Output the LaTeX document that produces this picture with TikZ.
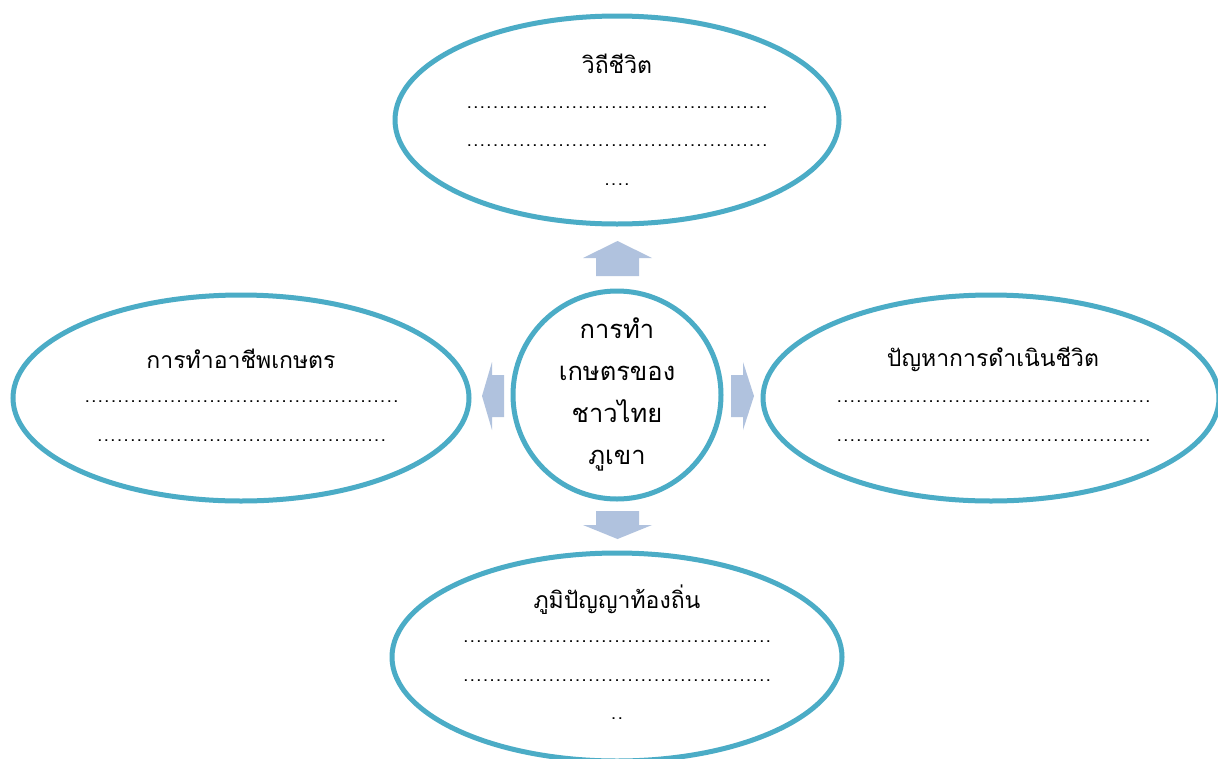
\documentclass[tikz,border=0pt]{standalone}
\usepackage{fontspec}
\newfontfamily\thaifont[Script=Thai]{Loma}
\usetikzlibrary{shapes.geometric}
\definecolor{ring}{RGB}{75,172,198}
\definecolor{arrowfill}{RGB}{176,194,222}
\newcommand\dotrow[1]{\hbox to #1pt{\xleaders\hbox to 6.55pt{\hss.\hss}\hfill}}
\begin{document}
\begin{tikzpicture}[x=1pt,y=-1pt,
  bubble/.style={ellipse,draw=ring,line width=5pt,fill=white,inner sep=0pt},
  ttl/.style={font=\thaifont\fontsize{23}{26}\selectfont,inner sep=0pt},
  ctr/.style={font=\thaifont\fontsize{25.5}{42}\selectfont,inner sep=0pt,align=center},
  dotsline/.style={font=\thaifont\fontsize{18}{20}\selectfont,inner sep=0pt},
  arrowshape/.style={fill=arrowfill,draw=none}]
\useasboundingbox (0,0) rectangle (1218,758);
\fill[white] (0,0) rectangle (1218,758);
% arrows
\fill[arrowshape] (596,276) -- (596,258) -- (583,258) -- (617.5,241) -- (652,258) -- (639,258) -- (639,276) -- cycle;
\fill[arrowshape] (596,511) -- (639,511) -- (639,525) -- (652,525) -- (617.5,539) -- (583,525) -- (596,525) -- cycle;
\fill[arrowshape] (504,375) -- (492,375) -- (492,362) -- (482,396) -- (492,430) -- (492,417) -- (504,417) -- cycle;
\fill[arrowshape] (731,375) -- (743,375) -- (743,362) -- (754,396) -- (743,430) -- (743,417) -- (731,417) -- cycle;
% bubbles
\node[bubble,minimum width=444pt,minimum height=208pt] (top) at (617,120) {};
\node[bubble,minimum width=456pt,minimum height=206pt] (left) at (241,398) {};
\node[bubble,minimum width=456pt,minimum height=206pt] (right) at (991,398) {};
\node[bubble,minimum width=450pt,minimum height=208pt] (bottom) at (617,657) {};
\node[circle,draw=ring,line width=5pt,fill=white,minimum size=208pt,inner sep=0pt] (center) at (617,395) {};
% top texts
\node[ttl] (toptitle) at (617,64) {วิถีชีวิต};
\node[dotsline] (topd1) at (617,108) {\dotrow{302}};
\node[dotsline] (topd2) at (617,146) {\dotrow{302}};
\node[dotsline] (topd3) at (617,185) {\dotrow{26.5}};
% left
\node[ttl] (lefttitle) at (241,359) {การทำอาชีพเกษตร};
\node[dotsline] (leftd1) at (241.5,402) {\dotrow{315}};
\node[dotsline] (leftd2) at (241.5,441) {\dotrow{290}};
% right
\node[ttl] (righttitle) at (993,359) {ปัญหาการดำเนินชีวิต};
\node[dotsline] (rightd1) at (993.5,402) {\dotrow{315}};
\node[dotsline] (rightd2) at (993.5,441) {\dotrow{315}};
% bottom
\node[ttl] (bottomtitle) at (617,600) {ภูมิปัญญาท้องถิ่น};
\node[dotsline] (bottomd1) at (617,642) {\dotrow{309}};
\node[dotsline] (bottomd2) at (617,681) {\dotrow{309}};
\node[dotsline] (bottomd3) at (617,719) {\dotrow{13.5}};
% center
\node[ctr] (ctext) at (617,394) {การทำ\\เกษตรของ\\ชาวไทย\\ภูเขา};
\end{tikzpicture}
\end{document}
